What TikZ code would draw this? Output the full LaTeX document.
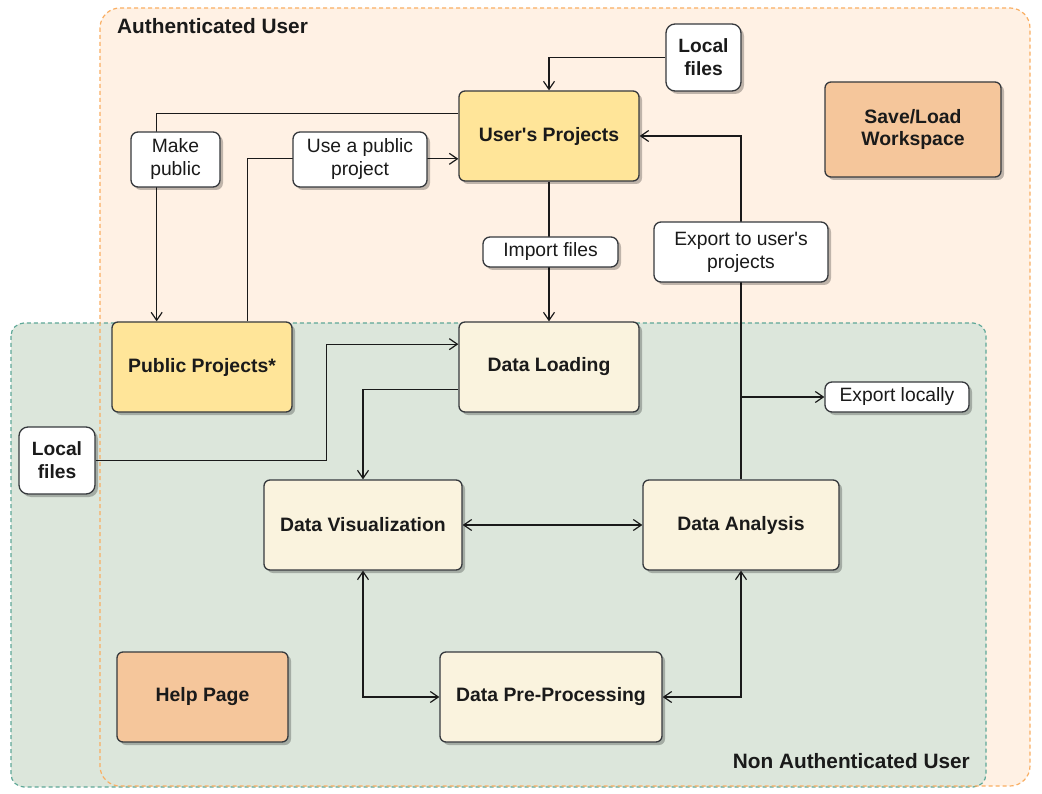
\documentclass[tikz,border=0pt]{standalone}
\usepackage{fontspec}
\setmainfont{Liberation Sans}
\usetikzlibrary{arrows.meta,shadows,calc}
\definecolor{authfill}{HTML}{FFF1E4}
\definecolor{authline}{HTML}{F9AE62}
\definecolor{nonfill}{HTML}{DCE6DB}
\definecolor{nonline}{HTML}{5FA898}
\definecolor{gold}{HTML}{FFE599}
\definecolor{cream}{HTML}{FAF3DE}
\definecolor{peach}{HTML}{F5C69B}
\definecolor{edge}{HTML}{36393D}
\definecolor{ink}{HTML}{1A1A1A}
\tikzset{
  boxbase/.style={draw=edge, line width=1.3pt, rounded corners=6pt, text=ink,
    align=center, inner sep=2pt,
    drop shadow={shadow xshift=3pt, shadow yshift=-3pt, opacity=0.25, fill=black}},
  mainbox/.style={boxbase, font=\fontsize{19.4}{22.5}\selectfont\bfseries},
  tagbox/.style={boxbase, fill=white, rounded corners=7pt, font=\fontsize{19.3}{23}\selectfont},
  filebox/.style={boxbase, fill=white, rounded corners=9pt, font=\fontsize{19.2}{23}\selectfont\bfseries},
  region/.style={dash pattern=on 4pt off 3pt, line width=1.2pt},
  regiontitle/.style={text=ink, inner sep=0pt, font=\fontsize{20.8}{24}\selectfont\bfseries},
  conn/.style={draw=ink, line width=1.2pt},
  arr/.style={conn, -{Straight Barb[length=8pt,width=11pt]}},
  darr/.style={conn, {Straight Barb[length=8pt,width=11pt]}-{Straight Barb[length=8pt,width=11pt]}}
}
\begin{document}
\begin{tikzpicture}[x=1pt,y=-1pt]
\useasboundingbox (0,0) rectangle (1042,794);
% regions
\fill[authfill, rounded corners=20pt] (100,8) rectangle (1030,786);
\filldraw[fill=nonfill, draw=nonline, region, rounded corners=13pt] (11,323) rectangle (986,787);
\draw[authline, region, rounded corners=20pt] (100,8) rectangle (1030,786);
\node[regiontitle, anchor=base west] (tauth) at (117,34) {Authenticated User};
\node[regiontitle, anchor=base east] (tnon) at (970,768) {Non Authenticated User};

% main boxes
\node[mainbox, fill=gold, minimum width=180, minimum height=90] (up) at (549,136) {User\textquotesingle s Projects};
\node[mainbox, fill=gold, minimum width=180, minimum height=90] (pub) at (202,367) {Public Projects*};
\node[mainbox, fill=cream, minimum width=180, minimum height=90] (dl) at (549,367) {Data Loading};
\node[mainbox, fill=cream, minimum width=198, minimum height=90] (dv) at (363,525) {Data Visualization};
\node[mainbox, fill=cream, minimum width=196, minimum height=90] (da) at (741,525) {Data Analysis};
\node[mainbox, fill=cream, minimum width=222, minimum height=90] (dpp) at (551,697) {Data Pre-Processing};
\node[mainbox, fill=peach, minimum width=171, minimum height=90] (help) at (202.5,697) {Help Page};
\node[mainbox, fill=peach, minimum width=176, minimum height=95] (save) at (913,129.5) {Save/Load\\Workspace};
\node[filebox, minimum width=75, minimum height=67] (lft) at (703.5,57.5) {Local\\files};
\node[filebox, minimum width=76, minimum height=67] (llf) at (57,460.5) {Local\\files};

% connectors
\draw[arr] (lft.west) -| (up.north);
\draw[arr] ($(up.north west)!0.25!(up.south west)$) -| ($(pub.north west)!0.25!(pub.north east)$);
\draw[arr] ($(pub.north west)!0.75!(pub.north east)$) |- ($(up.north west)!0.75!(up.south west)$);
\draw[arr] (up.south) -- (dl.north);
\draw[arr] (llf.east) -- ++(231,0) |- ($(dl.north west)!0.25!(dl.south west)$);
\draw[arr] ($(dl.north west)!0.75!(dl.south west)$) -| (dv.north);
\draw[darr] (dv.east) -- (da.west);
\draw[darr] (dv.south) |- (dpp.west);
\draw[darr] (dpp.east) -| (da.south);
\draw[arr] (da.north) |- (up.east);

% connector labels
\node[tagbox, minimum width=89, minimum height=55] (mp) at (175.5,159.5) {Make\\public};
\node[tagbox, minimum width=134, minimum height=55] (uapp) at (360,159.5) {Use a public\\project};
\node[tagbox, minimum width=135, minimum height=30] (imp) at (550.5,252) {Import files};
\node[tagbox, minimum width=174, minimum height=60] (eup) at (741,252) {Export to user\textquotesingle s\\projects};
\node[tagbox, minimum width=144, minimum height=30] (exl) at (897,397) {Export locally};
\coordinate (split) at (da.north |- exl.west);
\draw[arr] (split) -- (exl.west);
\end{tikzpicture}
\end{document}
